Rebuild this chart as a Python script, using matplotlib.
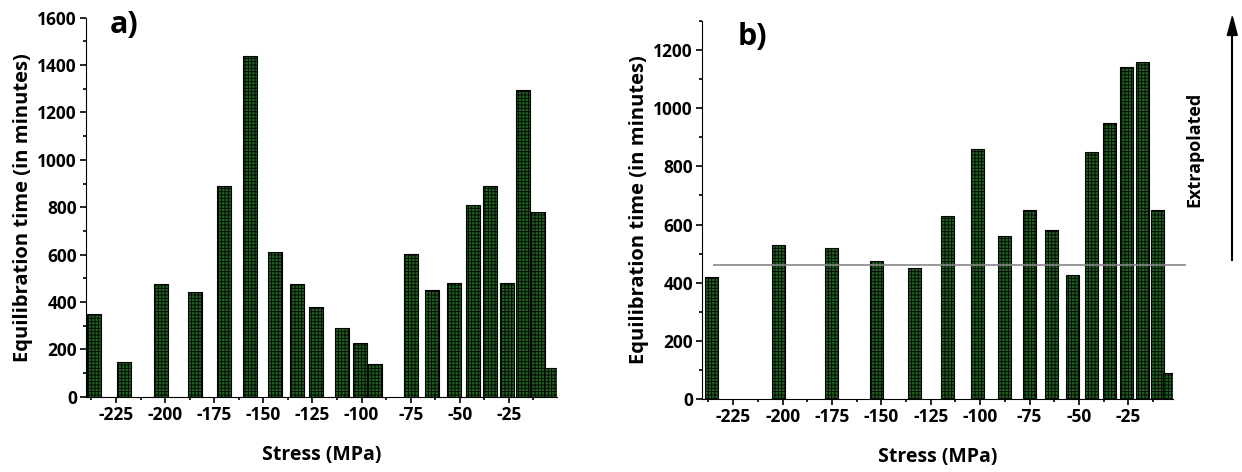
import matplotlib.pyplot as plt
from matplotlib.ticker import MultipleLocator

plt.rcParams['font.family'] = ['Open Sans', 'DejaVu Sans']
plt.rcParams['axes.unicode_minus'] = False
plt.rcParams['hatch.linewidth'] = 0.6
plt.rcParams['hatch.color'] = '#0a1f0a'

# Panel a) data
stress_a = [-236, -221, -202, -185, -170, -157, -144, -133, -123, -110, -101, -93,
            -75, -64, -53, -43.5, -34.5, -26, -18, -10.3, -3.7]
time_a = [350, 145, 475, 440, 890, 1440, 610, 475, 378, 290, 226, 136,
          602, 452, 482, 810, 890, 482, 1295, 780, 122]

# Panel b) data
stress_b = [-236, -202, -175, -152.5, -133.3, -116.3, -101.2, -87.5, -75, -63.8,
            -53.4, -43.5, -34.5, -25.8, -17.9, -10.2, -3.9]
time_b = [420, 530, 520, 474, 450, 630, 860, 560, 650, 580,
          428, 850, 950, 1140, 1160, 650, 90]
ref_level = 462

xticks = [-225, -200, -175, -150, -125, -100, -75, -50, -25]

bar_color = '#1f631f'

fig = plt.figure(figsize=(12.42, 4.72), dpi=100)
ax1 = fig.add_axes([0.0692, 0.1595, 0.379, 0.803])
ax2 = fig.add_axes([0.5652, 0.154, 0.3795, 0.802])


def style(ax, ylim, ystep):
    for s in ['top', 'right']:
        ax.spines[s].set_visible(False)
    ax.set_ylim(*ylim)
    ax.set_xticks(xticks)
    ax.xaxis.set_minor_locator(MultipleLocator(12.5))
    ax.yaxis.set_major_locator(MultipleLocator(ystep))
    ax.yaxis.set_minor_locator(MultipleLocator(ystep / 2))
    ax.tick_params(which='both', direction='out', width=1.2)
    ax.tick_params(which='major', length=4, labelsize=12.5, pad=2.5)
    ax.tick_params(which='minor', length=2.5)
    for lab in ax.get_xticklabels() + ax.get_yticklabels():
        lab.set_fontweight('bold')
    ax.set_xlabel('Stress (MPa)', fontsize=14, fontweight='bold', labelpad=15)
    ax.set_ylabel('Equilibration time (in minutes)', fontsize=14.5, fontweight='bold',
                  labelpad=3)


ax1.bar(stress_a, time_a, width=7.1, color=bar_color, edgecolor='black',
        linewidth=0.8, hatch='+++++')
ax1.set_xlim(-240.3, -0.7)
style(ax1, (0, 1600), 200)
ax1.text(-221, 1570, 'a)', fontsize=22, fontweight='bold', ha='center', va='center')

ax2.bar(stress_b, time_b, width=6.6, color=bar_color, edgecolor='black',
        linewidth=0.8, hatch='+++++')
ax2.set_xlim(-240.8, -2.2)
style(ax2, (0, 1300), 200)
ax2.hlines(ref_level, -235, 4, color='#888888', linewidth=1.2, clip_on=False, zorder=5)
ax2.text(-215.5, 1245, 'b)', fontsize=22, fontweight='bold', ha='center', va='center')

# Extrapolated arrow on the right
fig.text(0.9615, 0.683, 'Extrapolated', rotation=90, fontsize=13,
         fontweight='bold', ha='center', va='center')
fig.add_artist(plt.Line2D([0.9922, 0.9922], [0.45, 0.93], color='black', linewidth=1.5))
fig.patches.append(plt.Polygon([[0.9922, 0.965], [0.9882, 0.925], [0.9962, 0.925]],
                               closed=True, color='black', transform=fig.transFigure,
                               figure=fig))

fig.savefig('out.png', dpi=100)
